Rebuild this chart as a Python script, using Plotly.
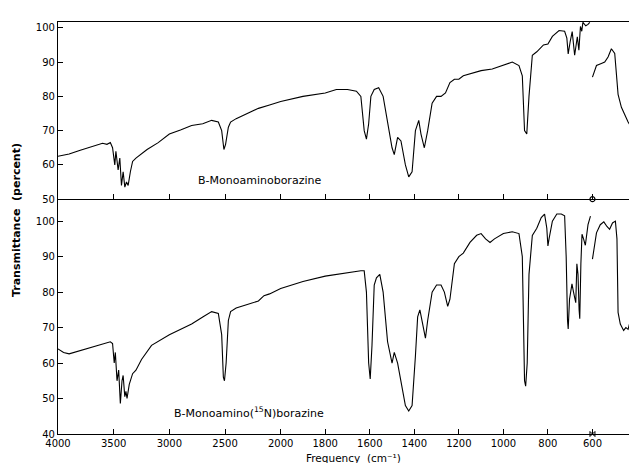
import plotly.graph_objects as go

# ---------------- data (wavenumber cm-1, transmittance %) ----------------
top_hi_nu = [4000, 3950, 3900, 3800, 3700, 3600, 3560, 3530, 3510, 3490, 3480, 3460, 3445, 3430,
             3415, 3400, 3385, 3370, 3350, 3330, 3300, 3200, 3100, 3000, 2900, 2800, 2700, 2620,
             2560, 2530, 2510, 2495, 2470, 2450, 2400, 2300, 2200, 2100, 2000, 1900, 1800, 1750,
             1700, 1660, 1640, 1625, 1615, 1605, 1595, 1580, 1560, 1540, 1520, 1500, 1490, 1475,
             1460, 1440, 1425, 1410, 1395, 1380, 1370, 1355, 1340, 1320, 1300, 1280, 1260, 1240,
             1220, 1200, 1180, 1150, 1100, 1050, 1000, 960, 930, 915, 905, 895, 885, 870, 850,
             820, 800, 780, 750, 725, 715, 709, 700, 691, 680, 672, 668, 661, 654, 648, 643, 630,
             620, 612]
top_hi_T = [62.5, 62.8, 63.2, 64.3, 65.3, 66.3, 66.0, 66.5, 65.0, 60.0, 64.0, 58.5, 62.0, 54.0,
            58.0, 53.5, 55.0, 54.0, 58.0, 61.0, 62.0, 64.5, 66.5, 69.0, 70.2, 71.5, 72.0, 73.0,
            72.5, 70.0, 64.5, 66.0, 71.0, 72.5, 73.5, 75.0, 76.5, 77.5, 78.5, 80.0, 81.0, 82.0,
            82.0, 81.5, 80.0, 70.0, 67.5, 72.0, 80.0, 82.0, 82.5, 80.0, 72.0, 65.0, 63.0, 68.0,
            67.0, 60.0, 56.5, 58.0, 70.0, 73.0, 69.0, 65.0, 70.0, 78.0, 80.0, 80.0, 81.0, 84.0,
            85.0, 85.0, 86.0, 86.5, 87.5, 88.0, 89.0, 90.0, 89.0, 86.0, 70.0, 69.0, 80.0, 92.0,
            93.0, 95.0, 95.3, 97.5, 99.2, 99.0, 97.0, 92.4, 96.0, 98.9, 92.0, 96.0, 97.4, 93.5,
            100.4, 99.0, 101.6, 100.6, 101.0, 101.6]

top_lo_nu = [600, 582, 560, 545, 530, 515, 500, 485, 470, 455, 440, 426, 417, 412, 405]
top_lo_T = [85.6, 89.0, 89.6, 90.0, 91.5, 93.9, 92.5, 80.6, 76.8, 74.5, 72.5, 71.0, 65.7, 67.0, 65.0]

bot_hi_nu = [4000, 3950, 3900, 3800, 3700, 3600, 3530, 3510, 3495, 3485, 3470, 3455, 3440, 3425,
             3415, 3400, 3390, 3380, 3360, 3330, 3300, 3250, 3160, 3000, 2900, 2800, 2700, 2620,
             2560, 2530, 2515, 2505, 2490, 2470, 2450, 2400, 2300, 2200, 2150, 2100, 2000, 1900,
             1800, 1700, 1640, 1625, 1615, 1605, 1598, 1590, 1580, 1570, 1555, 1540, 1520, 1500,
             1490, 1475, 1460, 1440, 1425, 1410, 1395, 1385, 1375, 1360, 1350, 1340, 1320, 1300,
             1280, 1265, 1250, 1240, 1220, 1200, 1180, 1150, 1120, 1100, 1080, 1060, 1040, 1000,
             960, 930, 915, 905, 900, 893, 885, 870, 850, 830, 815, 805, 800, 795, 780, 760, 740,
             725, 718, 712, 709, 703, 692, 685, 675, 670, 665, 660, 657, 652, 647, 640, 632, 620,
             609]
bot_hi_T = [64.0, 63.0, 62.6, 63.5, 64.5, 65.2, 66.0, 65.5, 60.0, 63.0, 55.0, 58.0, 48.6, 55.0,
            56.5, 50.5, 52.0, 50.0, 54.0, 57.0, 58.0, 61.0, 65.0, 68.0, 69.5, 71.0, 73.0, 74.5,
            74.0, 68.0, 56.0, 55.0, 60.0, 72.0, 74.5, 75.5, 76.5, 77.5, 79.0, 79.5, 81.0, 83.0,
            84.5, 85.5, 86.0, 86.0, 80.0, 60.0, 55.5, 65.0, 82.0, 84.0, 85.0, 80.0, 66.0, 60.0,
            63.0, 60.0, 55.0, 48.0, 46.5, 48.0, 62.0, 73.0, 75.0, 70.0, 67.0, 72.0, 80.0, 82.0,
            82.0, 80.0, 76.0, 78.0, 88.0, 90.0, 91.0, 94.0, 96.0, 96.5, 95.0, 94.0, 95.0, 96.5,
            97.0, 96.5, 90.0, 55.0, 53.5, 60.0, 85.0, 96.0, 98.0, 101.0, 102.0, 98.0, 93.0, 95.0,
            100.0, 102.0, 102.0, 101.5, 90.0, 72.0, 69.6, 78.0, 82.3, 80.0, 77.0, 88.0, 85.0, 75.0,
            72.5, 88.0, 96.3, 95.0, 93.2, 99.0, 101.4]

bot_lo_nu = [600, 590, 582, 565, 549, 535, 523, 510, 497, 490, 485, 475, 460, 450, 440, 430, 421,
             415, 410, 405]
bot_lo_T = [89.3, 94.0, 96.7, 99.0, 99.8, 98.5, 97.7, 99.5, 100.0, 95.0, 74.3, 71.0, 69.2, 70.0,
            69.5, 72.0, 78.0, 78.5, 77.0, 75.0]

tick_cm = [4000, 3500, 3000, 2500, 2000, 1800, 1600, 1400, 1200, 1000, 800, 600, 400]
top_yticks = [50, 60, 70, 80, 90, 100]
bot_yticks = [40, 50, 60, 70, 80, 90, 100]

label_top = "B-Monoaminoborazine"
label_bot = "B-Monoamino(<sup>15</sup>N)borazine"


# grating scale: 4000-2000 at half the scale of 2000-400
def u(nu):
    return (4000 - nu) if nu >= 2000 else 2000 + 2 * (2000 - nu)


def us(arr):
    return [u(v) for v in arr]


FONT = "DejaVu Sans"
line = dict(color="black", width=1.1)

fig = go.Figure()
fig.add_trace(go.Scatter(x=us(top_hi_nu), y=top_hi_T, mode="lines", line=line,
                         xaxis="x2", yaxis="y2", hoverinfo="skip"))
fig.add_trace(go.Scatter(x=us(top_lo_nu), y=top_lo_T, mode="lines", line=line,
                         xaxis="x2", yaxis="y2", hoverinfo="skip"))
fig.add_trace(go.Scatter(x=us(bot_hi_nu), y=bot_hi_T, mode="lines", line=line,
                         xaxis="x", yaxis="y", hoverinfo="skip"))
fig.add_trace(go.Scatter(x=us(bot_lo_nu), y=bot_lo_T, mode="lines", line=line,
                         xaxis="x", yaxis="y", hoverinfo="skip"))
# small circle marker on the separating axis at 600
fig.add_trace(go.Scatter(x=[u(600)], y=[50], mode="markers",
                         marker=dict(symbol="circle-open", size=5, color="black", line=dict(width=1.2)),
                         xaxis="x2", yaxis="y2", hoverinfo="skip", cliponaxis=False))
# break mark on the bottom axis at 600
fig.add_trace(go.Scatter(x=[u(600)], y=[40], mode="markers",
                         marker=dict(symbol="hourglass-open", size=5, color="black",
                                     line=dict(width=1), angle=90),
                         xaxis="x", yaxis="y", hoverinfo="skip", cliponaxis=False))

xcommon = dict(range=[0, 5200], showgrid=False, zeroline=False, showline=True,
               linecolor="black", linewidth=1.2, ticks="inside", ticklen=5,
               tickcolor="black", tickvals=us(tick_cm))
ycommon = dict(showgrid=False, zeroline=False, showline=True, linecolor="black",
               linewidth=1.2, ticks="inside", ticklen=5, tickcolor="black", mirror="ticks",
               tickfont=dict(family=FONT, size=10, color="black"))

fig.update_layout(
    width=637, height=463,
    margin=dict(l=50, r=8, t=14, b=37),
    paper_bgcolor="white", plot_bgcolor="white",
    showlegend=False,
    xaxis=dict(**xcommon, anchor="y", ticktext=[str(v) for v in tick_cm],
               tickfont=dict(family=FONT, size=10, color="black")),
    xaxis2=dict(**xcommon, anchor="y2", matches="x", showticklabels=False, mirror=True),
    yaxis=dict(**ycommon, domain=[0, 0.570], range=[40, 106.2], tickvals=bot_yticks),
    yaxis2=dict(**ycommon, domain=[0.570, 1], range=[50, 101.7], tickvals=top_yticks),
    annotations=[
        dict(text=label_top, x=u(2760), y=55.5, xref="x2", yref="y2", xanchor="left",
             yanchor="middle", showarrow=False, font=dict(family=FONT, size=11, color="black")),
        dict(text=label_bot, x=u(2980), y=46, xref="x", yref="y", xanchor="left",
             yanchor="middle", showarrow=False, font=dict(family=FONT, size=11, color="black")),
        dict(text="<b>Transmittance  (percent)</b>", x=-0.072, y=0.52, xref="paper", yref="paper",
             textangle=-90, showarrow=False, xanchor="center", yanchor="middle",
             font=dict(family=FONT, size=11, color="black")),
        dict(text="Frequency  (cm⁻¹)", x=(345 - 50) / 579, y=-0.040, xref="paper",
             yref="paper", showarrow=False, xanchor="center", yanchor="top",
             font=dict(family=FONT, size=10.5, color="black")),
    ],
)

fig.write_html("out.html")
